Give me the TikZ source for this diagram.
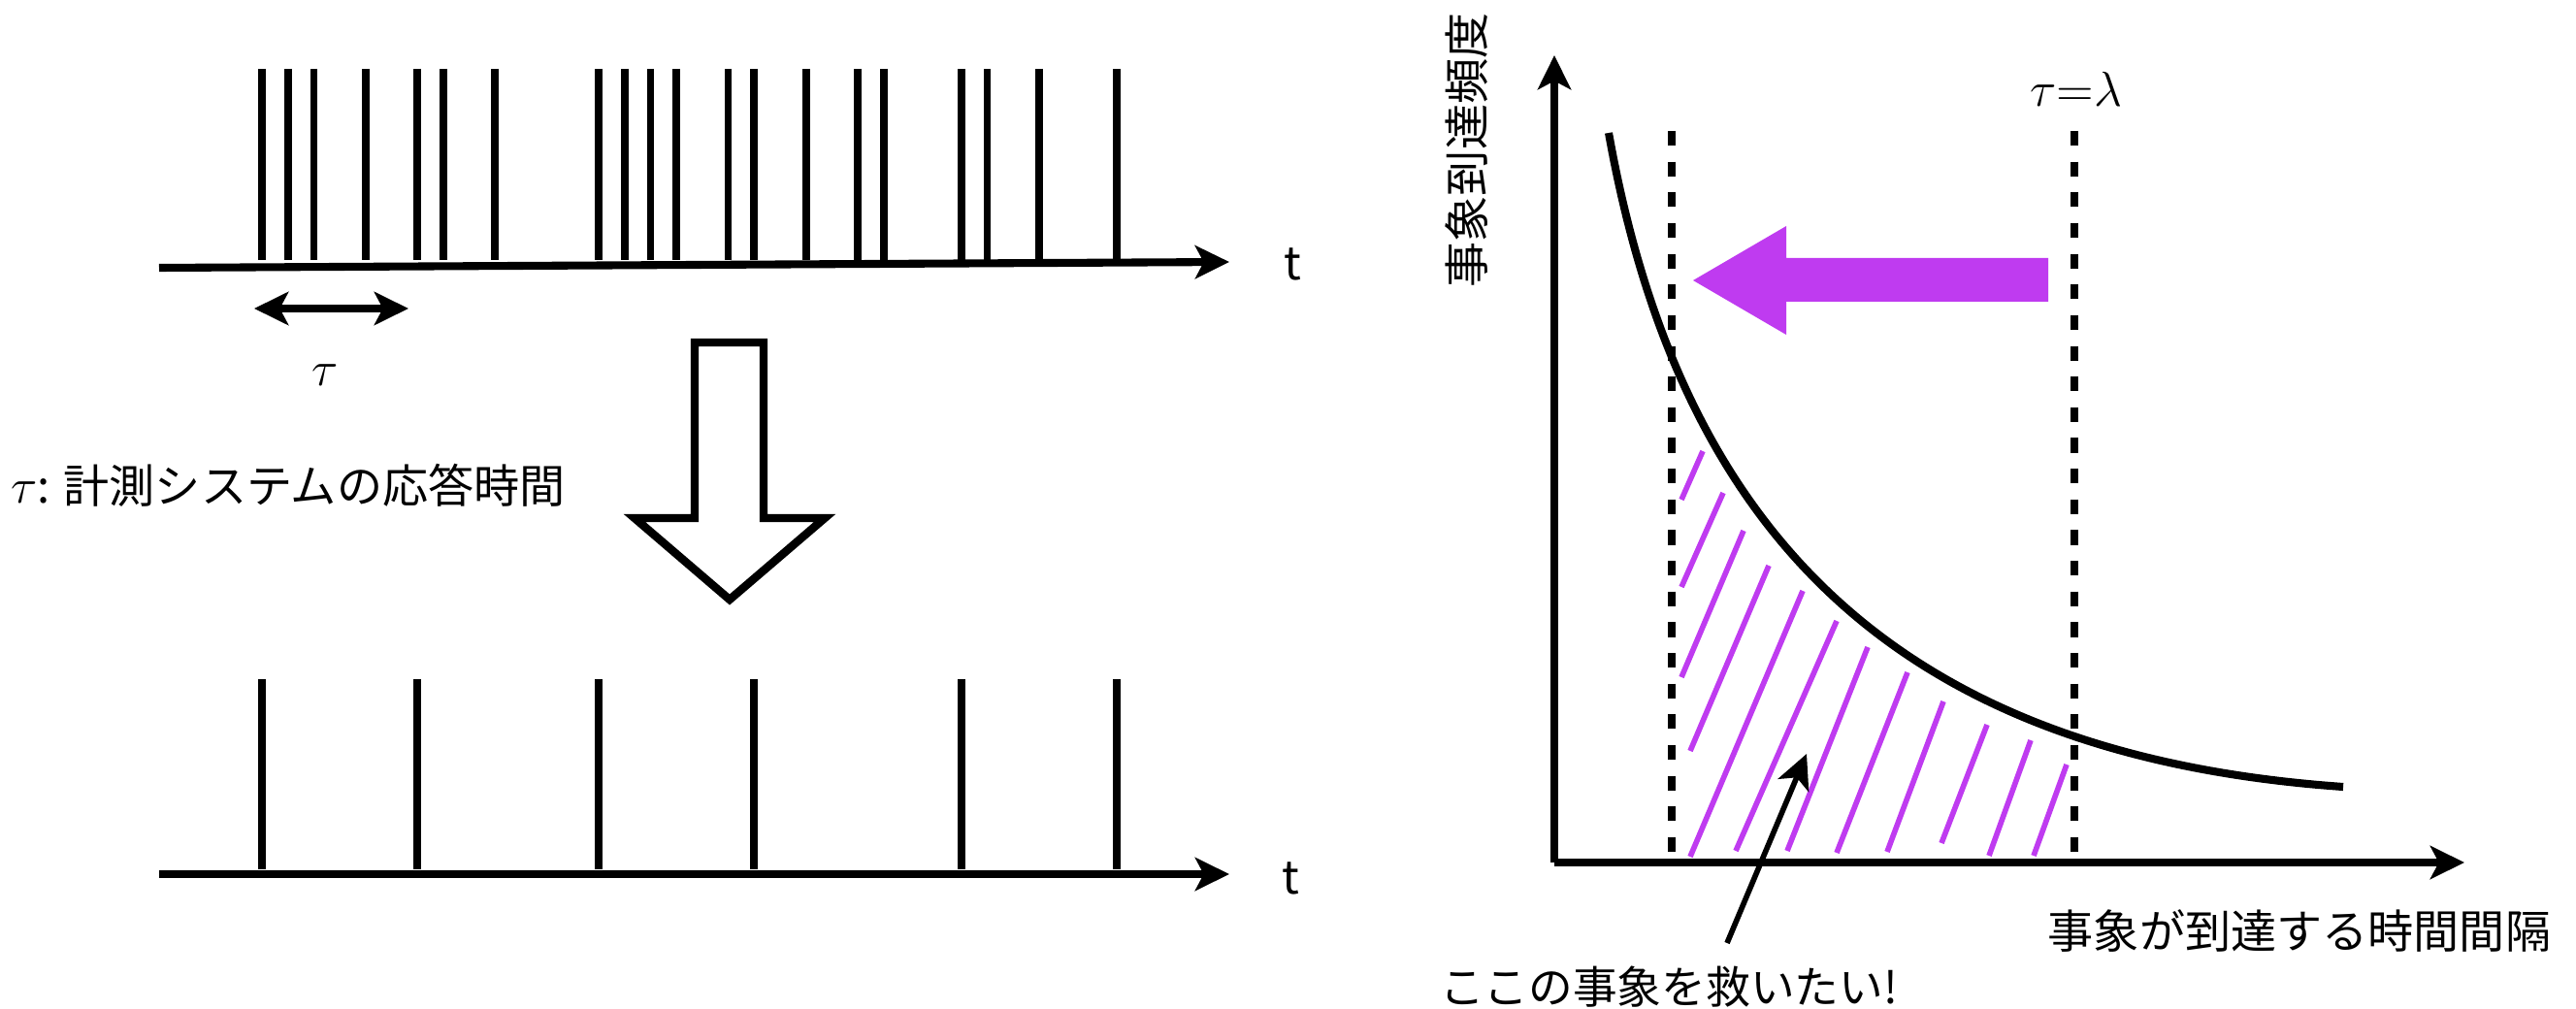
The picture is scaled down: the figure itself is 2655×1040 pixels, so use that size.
\documentclass[tikz,border=0pt]{standalone}
\usepackage{fontspec}
\setmainfont{Noto Sans CJK JP}
\usetikzlibrary{arrows.meta}
\definecolor{morado}{RGB}{191,59,240}

\begin{document}
\begin{tikzpicture}[x=0.01cm, y=-0.01cm,
		>={Stealth[length=10pt, width=9.7pt, inset=2.5pt]},
		eje/.style={line width=2.3pt, ->},
		pulso/.style={line width=2.2pt},
		etiqueta/.style={font=\fontsize{13.4pt}{16pt}\selectfont, inner sep=0pt},
		rayado/.style={line width=1.6pt, morado},
		guia/.style={line width=2.1pt, dash pattern=on 4.3pt off 4.7pt}]
	\useasboundingbox (0,0) rectangle (2655,1040);
	
	% Eventos que llegan
	\coordinate (o1) at (164,276);
	\coordinate (f1) at (1267,270);
	\foreach \n in {0,1,2,4,6,7,9,13,14,15,16,18,19,21,23,24,27,28,30,33}
		\draw[pulso] (270+26.7*\n,71) -- (270+26.7*\n,268);
	\draw[eje] (o1) -- (f1);
	\node[etiqueta] (t1) at (1332,272) {t};
	
	% Tiempo de respuesta
	\coordinate (ti) at (262,318);
	\coordinate (tf) at (421,318);
	\draw[line width=2.2pt, <->] (ti) -- (tf);
	\node[etiqueta, font=\fontsize{15pt}{18pt}\selectfont] (tau) at (335,387) {$\tau$};
	\node[etiqueta] (nota) at (297,500) {$\tau$: 計測システムの応答時間};
	
	% Flecha hueca
	\draw[line width=2.4pt, line join=miter] (716,353) -- (787,353) -- (787,534) -- (850,534)
		-- (752,618) -- (654,534) -- (716,534) -- cycle;
	
	% Eventos medidos
	\coordinate (o2) at (164,901);
	\coordinate (f2) at (1267,901);
	\foreach \n in {0,6,13,19,27,33}
		\draw[pulso] (270+26.7*\n,700) -- (270+26.7*\n,896);
	\draw[eje] (o2) -- (f2);
	\node[etiqueta] (t2) at (1330,905) {t};
	
	% Ejes de la distribucion
	\coordinate (origen) at (1602,889);
	\coordinate (ytop) at (1602,57);
	\coordinate (xfin) at (2540,889);
	\draw[eje] (origen) -- (ytop);
	\draw[eje] (origen) -- (xfin);
	\node[etiqueta, rotate=90] (ylab) at (1512,155) {事象到達頻度};
	\node[etiqueta] (xlab) at (2370,960) {事象が到達する時間間隔};
	
	% Limites tau
	\draw[guia] (1723,135) -- (1723,889);
	\draw[guia] (2138,135) -- (2138,889);
	\node[etiqueta] (lim) at (2140,92) {$\tau{=}\lambda$};
	
	% Rayado bajo la curva
	\foreach \xa/\ya/\xb/\yb in {1755/465/1733/515, 1776/508/1733/605, 1797/547/1733/698,
			1823/583/1742/774, 1858/609/1742/883, 1893/640/1789/877, 1925/667/1842/877,
			1966/693/1893/879, 2003/723/1945/878, 2048/747/2001/869, 2093/763/2050/882,
			2130/788/2096/882}
		\draw[rayado] (\xa,\ya) -- (\xb,\yb);
	
	% Curva de frecuencia
	\draw[line width=2.3pt] (1658,137) .. controls (1730,540) and (1945,778) .. (2415,811);
	
	% Flecha morada
	\fill[morado] (1745,289) -- (1841,233) -- (1841,266) -- (2111,266) -- (2111,311)
		-- (1841,311) -- (1841,345) -- cycle;
	
	% Indicacion
	\node[etiqueta, font=\fontsize{13pt}{16pt}\selectfont] (rescate) at (1720,1017) {ここの事象を救いたい!};
	\coordinate (punta) at (1862,777);
	\draw[line width=1.6pt, ->] (1780,972) -- (punta);
\end{tikzpicture}
\end{document}
